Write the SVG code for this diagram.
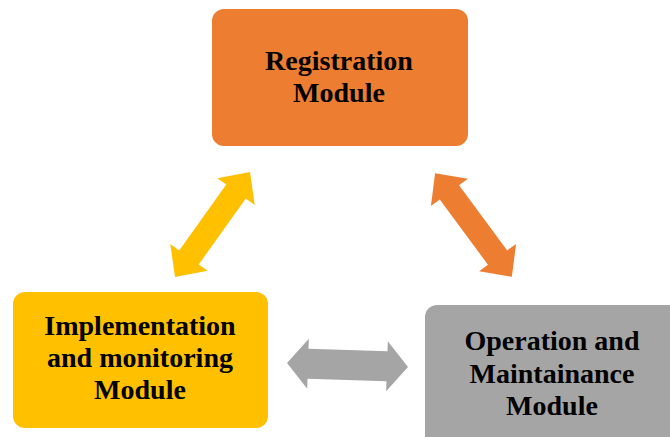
<svg xmlns="http://www.w3.org/2000/svg" width="670" height="437" viewBox="0 0 670 437">
<style>
.lbl{font-family:"Liberation Serif","Times New Roman",serif;font-weight:bold;font-size:28px;fill:#000;text-anchor:middle}
</style>
<defs>
<polygon id="diag" points="-64.5,0 -40.5,-23 -40.5,-12 40.5,-12 40.5,-23 64.5,0 40.5,23 40.5,12 -40.5,12 -40.5,23"/>
<polygon id="horiz" points="-60.5,0 -39.5,-25 -39.5,-15 39.5,-15 39.5,-25 60.5,0 39.5,25 39.5,15 -39.5,15 -39.5,25"/>
</defs>
<rect width="670" height="437" fill="#fff"/>
<g id="connectors">
<use href="#diag" fill="#FFC000" transform="translate(212.5,224.5) rotate(-54.5)"/>
<use href="#diag" fill="#ED7D31" transform="translate(473.5,225) rotate(53.5)"/>
<use href="#horiz" fill="#A5A5A5" transform="translate(347.5,365) rotate(1.9)"/>
</g>
<g id="registration">
<rect x="212" y="9" width="256" height="137" rx="12" fill="#ED7D31"/>
<text class="lbl" x="339" y="70">Registration</text>
<text class="lbl" x="339" y="102">Module</text>
</g>
<g id="implementation">
<rect x="13" y="292" width="255" height="136" rx="12" fill="#FFC000"/>
<text class="lbl" x="140" y="335">Implementation</text>
<text class="lbl" x="140" y="367">and monitoring</text>
<text class="lbl" x="140" y="399">Module</text>
</g>
<g id="operation">
<rect x="425" y="305" width="260" height="145" rx="12" fill="#A5A5A5"/>
<text class="lbl" x="552" y="350">Operation and</text>
<text class="lbl" x="552" y="383">Maintainance</text>
<text class="lbl" x="552" y="415">Module</text>
</g>
</svg>
